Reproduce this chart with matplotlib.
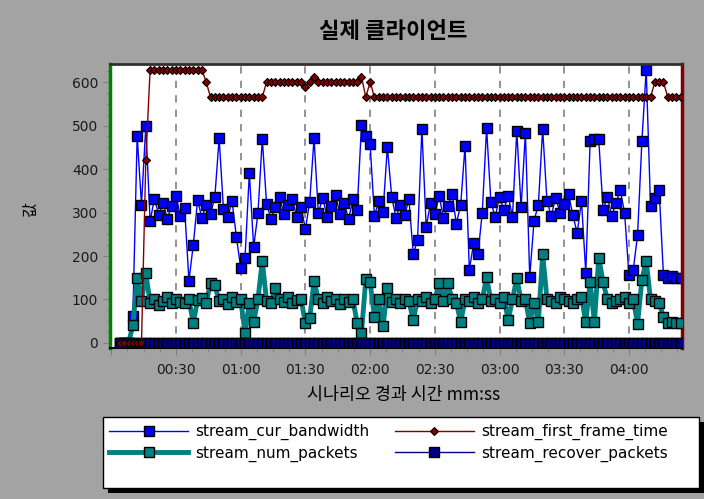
import numpy as np
import matplotlib
matplotlib.use('Agg')
import matplotlib.pyplot as plt
from matplotlib.patches import Rectangle
from matplotlib.ticker import MultipleLocator, FuncFormatter

# sample times (s), one sample every 2 s from 00:04 to 04:24
t = np.arange(4, 266, 2)

stream_cur_bandwidth = [
    0, 0, 0, 62, 476, 318, 499, 280, 332, 295,
    322, 286, 315, 338, 292, 310, 143, 225, 328, 288,
    318, 296, 335, 471, 308, 290, 326, 244, 172, 195,
    391, 221, 298, 469, 320, 286, 312, 336, 296, 318,
    330, 289, 312, 262, 325, 471, 298, 334, 290, 315,
    340, 296, 322, 285, 330, 306, 501, 476, 457, 292,
    326, 302, 451, 336, 288, 318, 294, 330, 204, 237,
    492, 267, 322, 296, 338, 288, 314, 342, 274, 318,
    453, 168, 230, 204, 300, 494, 324, 290, 336, 306,
    338, 290, 487, 312, 483, 152, 281, 318, 492, 326,
    292, 334, 300, 320, 342, 294, 253, 326, 161, 464,
    468, 468, 306, 336, 292, 322, 352, 298, 156, 168,
    248, 464, 628, 316, 334, 352, 156, 150, 155, 149,
    150,
]

stream_num_packets = [
    0, 0, 0, 41, 150, 96, 161, 92, 100, 88,
    97, 105, 92, 100, 95, 92, 100, 46, 98, 104,
    92, 138, 133, 96, 100, 90, 106, 95, 100, 23,
    92, 48, 100, 189, 96, 92, 126, 100, 95, 105,
    92, 98, 100, 46, 57, 143, 100, 92, 105, 96,
    100, 90, 102, 95, 100, 46, 23, 147, 140, 60,
    100, 39, 126, 95, 102, 92, 100, 96, 53, 100,
    96, 105, 92, 100, 138, 96, 138, 100, 92, 48,
    100, 96, 105, 92, 100, 152, 96, 100, 92, 105,
    53, 100, 150, 96, 100, 46, 92, 48, 205, 100,
    96, 92, 105, 100, 96, 92, 100, 105, 48, 140,
    48, 196, 140, 100, 92, 96, 100, 105, 92, 100,
    44, 145, 189, 100, 96, 92, 60, 46, 48, 46,
    46,
]

stream_first_frame_time = [
    0, 0, 0, 0, 0, 0, 420, 628, 628, 628,
    628, 628, 628, 628, 628, 628, 628, 628, 628, 628,
    600, 565, 565, 565, 565, 565, 565, 565, 565, 565,
    565, 565, 565, 565, 600, 600, 600, 600, 600, 600,
    600, 600, 600, 589, 600, 612, 600, 600, 600, 600,
    600, 600, 600, 600, 600, 600, 612, 565, 600, 565,
    565, 565, 565, 565, 565, 565, 565, 565, 565, 565,
    565, 565, 565, 565, 565, 565, 565, 565, 565, 565,
    565, 565, 565, 565, 565, 565, 565, 565, 565, 565,
    565, 565, 565, 565, 565, 565, 565, 565, 565, 565,
    565, 565, 565, 565, 565, 565, 565, 565, 565, 565,
    565, 565, 565, 565, 565, 565, 565, 565, 565, 565,
    565, 565, 565, 565, 600, 600, 600, 565, 565, 565,
    565,
]

stream_recover_packets = [0] * len(t)

bg = '#a3a3a3'
cjk = ['Noto Sans CJK KR', 'DejaVu Sans']

fig = plt.figure(figsize=(7.04, 4.99), dpi=100, facecolor=bg)
ax = fig.add_axes([110/704, 1-348/499, (682-110)/704, (348-64)/499])
ax.set_facecolor('white')

l1, = ax.plot(t, stream_cur_bandwidth, color='#0000ff', lw=1, marker='s', ms=7.4,
              mfc='#0000ff', mec='black', mew=1, zorder=2)
l2, = ax.plot(t, stream_num_packets, color='#008080', lw=3.5, marker='s', ms=7.4,
              mfc='#008080', mec='black', mew=1, zorder=3)
l4, = ax.plot(t, stream_recover_packets, color='#000080', lw=1, marker='s', ms=7.4,
              mfc='#000080', mec='black', mew=1, zorder=4)
l3, = ax.plot(t, stream_first_frame_time, color='#800000', lw=1, marker='D', ms=4,
              mfc='#800000', mec='black', mew=0.8, zorder=5)

ax.set_xlim(-0.6, 264.6)
ax.set_ylim(-11.5, 641.4)

ax.xaxis.set_major_locator(MultipleLocator(30))
ax.xaxis.set_minor_locator(MultipleLocator(7.5))
ax.xaxis.set_major_formatter(FuncFormatter(lambda v, p: '' if v <= 0 else '%02d:%02d' % (v // 60, v % 60)))
ax.yaxis.set_major_locator(MultipleLocator(100))
ax.yaxis.set_minor_locator(MultipleLocator(25))
ax.tick_params(which='both', direction='out', color='#808080', labelsize=10, labelcolor='#1a1a1a')
ax.tick_params(which='major', length=5)
ax.tick_params(which='minor', length=3)
ax.tick_params(axis='x', pad=6)
ax.xaxis.grid(True, which='major', linestyle=(0, (4, 4)), color='#8a8a8a', lw=1.3)

ax.spines['left'].set_color('#008000')
ax.spines['left'].set_linewidth(2.5)
ax.spines['right'].set_color('#800000')
ax.spines['right'].set_linewidth(2.5)
ax.spines['top'].set_color('#303030')
ax.spines['top'].set_linewidth(2)
ax.spines['bottom'].set_color('black')
ax.spines['bottom'].set_linewidth(1.5)

fig.text(393/704, 1-31/499, '실제 클라이언트', ha='center', va='center',
         fontsize=16, fontweight='bold', family=cjk)
fig.text(404/704, 1-395/499, '시나리오 경과 시간 mm:ss', ha='center', va='center',
         fontsize=12.5, family=cjk)
fig.text(30/704, 1-210/499, '값', ha='center', va='center', rotation=90,
         fontsize=11.5, family=cjk)

# legend box with hard shadow
fig.add_artist(Rectangle((108/704, 1-493/499), (699-103)/704, (488-417)/499,
                         transform=fig.transFigure, facecolor='black', edgecolor='none', zorder=1))
fig.add_artist(Rectangle((103/704, 1-488/499), (699-103)/704, (488-417)/499,
                         transform=fig.transFigure, facecolor='white', edgecolor='black', lw=1, zorder=2))

fig.legend([l1, l2, l3, l4],
           ['stream_cur_bandwidth', 'stream_num_packets', 'stream_first_frame_time', 'stream_recover_packets'],
           ncol=2, loc='upper left', bbox_to_anchor=(109/704, 1-424/499),
           frameon=False, borderpad=0, borderaxespad=0, fontsize=11,
           handlelength=5.2, handletextpad=0.45, columnspacing=1.65, labelspacing=0.35,
           markerscale=1.0)

fig.savefig('out.png', dpi=100, facecolor=bg)
